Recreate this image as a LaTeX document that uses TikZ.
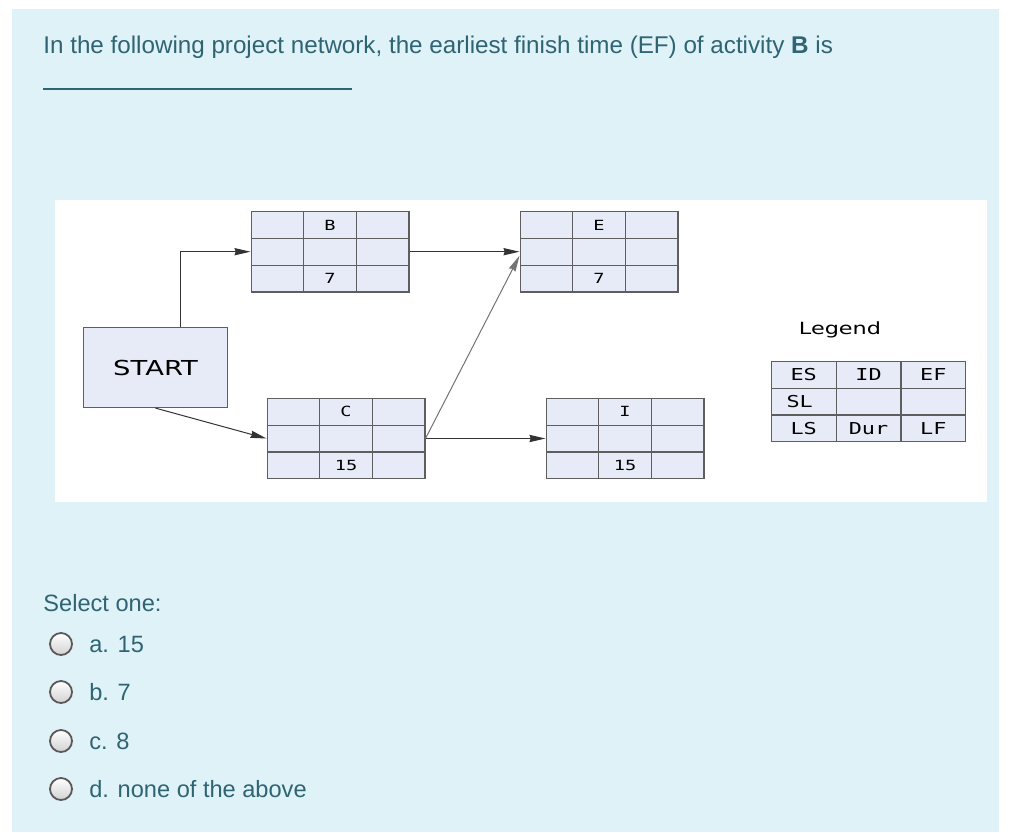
\documentclass[tikz,border=0pt]{standalone}
\usepackage{fontspec}
\setmainfont{Liberation Sans}
\newfontfamily\diagfont[FakeStretch=1.33]{DejaVu Sans}
\newfontfamily\cellfont[FakeStretch=1.33]{DejaVu Sans Mono}
\usetikzlibrary{arrows.meta,positioning,calc,matrix}
\definecolor{panelblue}{HTML}{DEF2F8}
\definecolor{qtext}{HTML}{2F6473}
\definecolor{cellfill}{HTML}{E6EBF7}
\definecolor{cellline}{HTML}{5E5E5E}

\begin{document}
\begin{tikzpicture}[x=0.5pt,y=-0.5pt,>={Stealth[length=8pt,width=3.6pt,inset=0.6pt]},
  cell/.style={draw=cellline,fill=cellfill,line width=0.6pt,inner sep=0pt,anchor=center,
    minimum width=26.3pt,minimum height=13.4pt},
  actmat/.style={matrix of nodes,nodes in empty cells,inner sep=0pt,outer sep=0pt,
    column sep=-0.6pt,row sep=-0.6pt,
    nodes={cell,font=\cellfont\fontsize{7}{8}\selectfont}},
  legmat/.style={matrix of nodes,nodes in empty cells,inner sep=0pt,outer sep=0pt,
    column sep=-0.6pt,row sep=-0.6pt,
    nodes={cell,minimum width=32.4pt,font=\cellfont\fontsize{8.2}{9}\selectfont}},
  start box/.style={draw=cellline,fill=cellfill,line width=0.6pt,minimum width=72pt,
    minimum height=40pt,font=\diagfont\fontsize{10.3}{12}\selectfont},
  flow/.style={->,draw=black!80,line width=0.5pt},
  radio/.style={circle,draw=black!65,line width=0.9pt,minimum size=11pt,inner sep=0pt,
    top color=white,bottom color=black!18},
  qtxt/.style={text=qtext,inner sep=0pt,font=\fontsize{11.8}{14}\selectfont}]

  \useasboundingbox (0,0) rectangle (1024,832);
  \fill[panelblue] (12,9) rectangle (999,832);
  \fill[white] (55,200) rectangle (987,502);

  % question
  \node[qtxt,anchor=base west,font=\fontsize{12.1}{14}\selectfont] (question) at (43,53)
    {In the following project network, the earliest finish time (EF) of activity \textbf{B} is};
  \node[qtxt,anchor=west] (blank) at (43,89) {\rule{154.5pt}{0.6pt}};

  % network
  \node[start box] (start) at (155.5,367.5) {START};
  \matrix[actmat] (actB) at (330,251.7) { & B & \\ & & \\ & 7 & \\ };
  \matrix[actmat,right=55pt of actB] (actE) { & E & \\ & & \\ & 7 & \\ };
  \matrix[actmat] (actC) at (346,438.5) { & C & \\ & & \\ & 15 & \\ };
  \matrix[actmat,right=60pt of actC] (actI) { & I & \\ & & \\ & 15 & \\ };

  \draw[flow] ([xshift=12.6pt]start.north) |- (actB.west);
  \draw[flow] (start.south) -- (actC.west);
  \draw[flow] (actB.east) -- (actE.west);
  \draw[flow,draw=black!55] (actC.east) -- ([yshift=-2pt]actE.west);
  \draw[flow] (actC.east) -- (actI.west);

  % legend
  \node[font=\diagfont\fontsize{8.4}{10}\selectfont] (legtitle) at (840,330) {Legend};
  \matrix[legmat] (legend) at (868.5,401.5) {
    ES & ID & EF \\
    SL\hspace*{4pt} & & \\
    LS & Dur & \raisebox{-1.2pt}{LF} \\ };

  % answers
  \node[qtxt,anchor=west] (select) at (43,603) {Select one:};
  \foreach \opt/\txt/\yy in {a/a. 15/644, b/b. 7/692, c/c. 8/741, d/d. none of the above/789}{
    \node[radio] (radio\opt) at (61,\yy) {};
    \node[qtxt,right=8pt of radio\opt] (answer\opt) {\txt};
  }
\end{tikzpicture}
\end{document}
